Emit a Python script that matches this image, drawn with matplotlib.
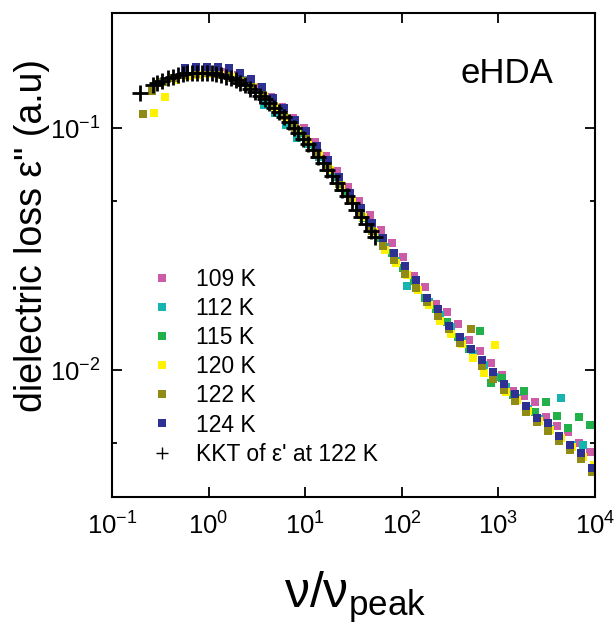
import matplotlib
matplotlib.use("Agg")
import matplotlib.pyplot as plt

plt.rcParams['font.family'] = ['Liberation Sans', 'DejaVu Sans']
plt.rcParams['mathtext.fontset'] = 'custom'
plt.rcParams['mathtext.rm'] = 'Liberation Sans'
plt.rcParams['mathtext.it'] = 'Liberation Sans:italic'
plt.rcParams['mathtext.bf'] = 'Liberation Sans:bold'

# reduced frequency grids nu/nu_peak (three slightly shifted measurement grids)
freq_a = [0.543, 0.707, 0.918, 1.194, 1.552, 2.018, 2.624, 3.412, 4.436, 5.755,
          7.481, 9.73, 12.64, 16.45, 21.38, 27.80, 36.14, 46.99, 60.96, 79.26,
          103.0, 134.0, 174.2, 226.4, 294.4, 381.9, 496.6, 645.7, 839.4, 1092,
          1419, 1845, 2399, 3111, 4045, 5260, 6839, 8892]
freq_b = [0.569, 0.740, 0.962, 1.250, 1.626, 2.113, 2.748, 3.573, 4.645, 6.026,
          7.834, 10.19, 13.24, 17.22, 22.39, 29.11, 37.84, 49.20, 63.83, 82.99,
          107.9, 140.3, 182.4, 237.1, 308.3, 399.9, 520.0, 676.1, 879.0, 1143,
          1486, 1932, 2512, 3258, 4236, 5508, 7161, 9311]
freq_c = [0.596, 0.775, 1.007, 1.309, 1.702, 2.212, 2.877, 3.741, 4.863, 6.309,
          8.202, 10.67, 13.86, 18.03, 23.44, 30.48, 39.62, 51.51, 66.83, 86.89,
          113.0, 146.9, 191.0, 248.2, 322.8, 418.7, 544.4, 707.9, 920.3, 1197,
          1556, 2023, 2630, 3411, 4435, 5767, 7498, 9749]

# dielectric loss (a.u.) for each temperature
loss_109 = [0.1718, 0.1660, 0.1585, 0.1479, 0.1355, 0.1230, 0.1109, 0.1000, 0.0881, 0.0773,
            0.0668, 0.0575, 0.0501, 0.0437, 0.0380, 0.0335, 0.0293, 0.0245, 0.0222, 0.0189,
            0.0174, 0.0155, 0.0134, 0.0120, 0.0107, 0.00962, 0.00826, 0.00785, 0.00738, 0.00640,
            0.00587, 0.00555, 0.00501, 0.00462]
loss_112 = [0.1585, 0.1445, 0.1245, 0.1161, 0.1035, 0.0912, 0.0861, 0.0759, 0.0653, 0.0569,
            0.0501, 0.0427, 0.0372, 0.0324, 0.0282, 0.0224, 0.0216, 0.0191, 0.0170, 0.0151,
            0.0132, 0.0117, 0.0105, 0.00944, 0.00851, 0.00767, 0.00692, 0.00631, 0.00575, 0.00766,
            0.00490, 0.00490, 0.00407]
loss_115 = [0.1175, 0.1059, 0.0955, 0.0841, 0.0733, 0.0631, 0.0543, 0.0468, 0.0407, 0.0351,
            0.0305, 0.0266, 0.0234, 0.0200, 0.0180, 0.0158, 0.0138, 0.0123, 0.0145, 0.00891,
            0.00933, 0.00794, 0.00826, 0.00676, 0.00741, 0.00646, 0.00581, 0.00640, 0.00593]
low_120 = [0.271, 0.352, 0.458]
loss_120 = [0.1153, 0.1343, 0.1585,
            0.1641, 0.1667, 0.1675, 0.1667, 0.1629, 0.1567, 0.1479, 0.1361, 0.1230, 0.1109,
            0.0989, 0.0881, 0.0776, 0.0676, 0.0582, 0.0501, 0.0432, 0.0372, 0.0316, 0.0277,
            0.0249, 0.0216, 0.0187, 0.0160, 0.0142, 0.0129, 0.0113, 0.00973, 0.0128, 0.00813,
            0.00752, 0.00678, 0.00617, 0.00565, 0.00524, 0.00481, 0.00437, 0.00407]
low_122 = [0.208, 0.26, 0.34, 0.44]
loss_122 = [0.1148, 0.1429, 0.1549, 0.1622,
            0.1667, 0.1683, 0.1687, 0.1675, 0.1648, 0.1585, 0.1496, 0.1380, 0.1253, 0.1127,
            0.1009, 0.0902, 0.0794, 0.0684, 0.0589, 0.0507, 0.0437, 0.0378, 0.0327, 0.0286,
            0.0251, 0.0220, 0.0191, 0.0168, 0.0148, 0.0130, 0.0149, 0.0104, 0.00923, 0.00832,
            0.00750, 0.00676, 0.00610, 0.00562, 0.00513, 0.00468, 0.00432, 0.00380]
loss_124 = [0.178, 0.180, 0.180, 0.179, 0.177, 0.170, 0.160, 0.149, 0.134, 0.121,
            0.108, 0.0973, 0.0849, 0.0738, 0.0631, 0.0543, 0.0470, 0.0407, 0.0352, 0.0307,
            0.0269, 0.0236, 0.0200, 0.0179, 0.0152, 0.0138, 0.0123, 0.0110, 0.00982, 0.00883,
            0.00796, 0.00710, 0.00634, 0.00604, 0.00538, 0.00490, 0.00458, 0.00397]

# Kramers-Kronig transform of eps' at 122 K
kkt_x = [0.195, 0.263, 0.295, 0.331, 0.380, 0.427, 0.479, 0.537, 0.603, 0.676,
         0.759, 0.851, 0.955, 1.072, 1.202, 1.349, 1.514, 1.698, 1.905, 2.138,
         2.399, 2.692, 3.020, 3.388, 3.802, 4.266, 4.786, 5.370, 6.026, 6.761,
         7.586, 8.511, 9.550, 10.72, 12.02, 13.49, 15.14, 16.98, 19.05, 21.38,
         23.99, 26.92, 30.20, 33.88, 38.02, 42.66, 47.86, 52.48]
kkt_y = [0.1396, 0.1507, 0.1542, 0.1574, 0.1611, 0.1637, 0.1660, 0.1675, 0.1687, 0.1694,
         0.1698, 0.1698, 0.1694, 0.1687, 0.1675, 0.1660, 0.1637, 0.1611, 0.1581, 0.1545,
         0.1507, 0.1462, 0.1416, 0.1368, 0.1318, 0.1268, 0.1216, 0.1164, 0.1112, 0.1059,
         0.1007, 0.0957, 0.0908, 0.0859, 0.0811, 0.0764, 0.0719, 0.0676, 0.0635, 0.0596,
         0.0558, 0.0524, 0.0490, 0.0459, 0.0430, 0.0402, 0.0376, 0.0355]

series = [
    ('109 K', freq_a[4:], loss_109, '#CC5CA8'),
    ('112 K', freq_c[5:], loss_112, '#17B3AF'),
    ('115 K', freq_a[9:], loss_115, '#22B04B'),
    ('120 K', low_120 + freq_c, loss_120, '#FFF200'),
    ('122 K', low_122 + freq_b, loss_122, '#8F8B15'),
    ('124 K', freq_b, loss_124, '#2E3192'),
]

x_ticks = [1e-1, 1e0, 1e1, 1e2, 1e3, 1e4]
x_tick_labels = [r'$\mathregular{10^{-1}}$', r'$\mathregular{10^{0}}$', r'$\mathregular{10^{1}}$',
                 r'$\mathregular{10^{2}}$', r'$\mathregular{10^{3}}$', r'$\mathregular{10^{4}}$']
y_ticks = [1e-2, 1e-1]
y_tick_labels = [r'$\mathregular{10^{-2}}$', r'$\mathregular{10^{-1}}$']
y_minor = [5e-3, 5e-2]

fig = plt.figure(figsize=(6.16, 6.30), dpi=100)
ax = fig.add_axes([0.1818, 0.2111, 0.7841, 0.7683])

for label, xs, ys, col in series:
    ax.plot(xs, ys, 's', ls='none', ms=6.2, mew=0, color=col, label=label)
ax.plot(kkt_x, kkt_y, '+', ls='none', ms=12, mew=2.0, color='black',
        label="KKT of ε' at 122 K")

ax.set_xscale('log')
ax.set_yscale('log')
ax.set_xlim(0.1, 1e4)
ax.set_ylim(0.003, 0.3)
ax.set_xticks(x_ticks, x_tick_labels)
ax.set_xticks([], minor=True)
ax.set_yticks(y_ticks, y_tick_labels)
ax.set_yticks(y_minor, ['', ''], minor=True)

ax.tick_params(which='both', direction='in', top=True, right=True, width=1.3, labelsize=18.5)
ax.tick_params(which='major', length=7.5)
ax.tick_params(which='minor', length=3.8)
ax.tick_params(axis='x', pad=11)
ax.tick_params(axis='y', pad=8)
for sp in ax.spines.values():
    sp.set_linewidth(1.5)

leg = ax.legend(loc='upper left', bbox_to_anchor=(0.0797, 0.474), frameon=False,
                fontsize=16.5, handlelength=1.0, handletextpad=1.0, labelspacing=0.27,
                borderpad=0, borderaxespad=0, markerscale=0.85)
kkt_handle = leg.legend_handles[-1]
kkt_handle.set_markersize(8)
kkt_handle.set_markeredgewidth(1.0)

ax.text(0.818, 0.874, 'eHDA', transform=ax.transAxes, ha='center', va='center', fontsize=25)

fig.text(32 / 616, 1 - 235 / 630, 'dielectric loss ε" (a.u)', rotation=90,
         ha='center', va='center', fontsize=27)
fig.text(355 / 616, 1 - 597 / 630, r'$\mathregular{ν/ν_{peak}}$',
         ha='center', va='center', fontsize=36)

fig.savefig('out.png', dpi=100)
